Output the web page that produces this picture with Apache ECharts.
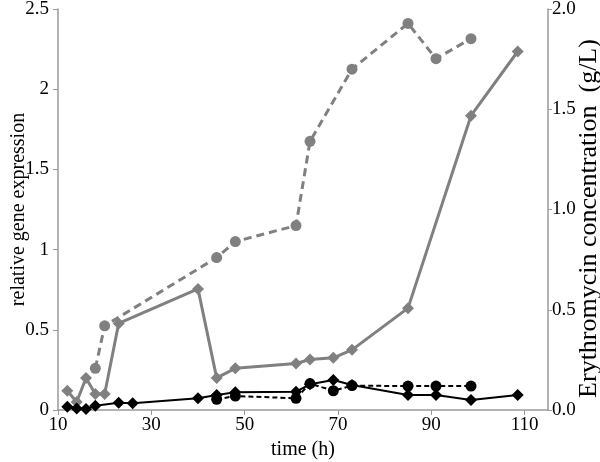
<!DOCTYPE html>
<html>
<head>
<meta charset="utf-8">
<script src="https://cdn.jsdelivr.net/npm/echarts@6/dist/echarts.min.js"></script>
<style>
html,body{margin:0;padding:0;background:#fff;}
#chart{width:600px;height:462px;}
</style>
</head>
<body>
<div id="chart"></div>
<script>
// ---- data ----
var xTicks = [10, 30, 50, 70, 90, 110];
var leftTicks = [0, 0.5, 1, 1.5, 2, 2.5];
var rightTicks = [0.0, 0.5, 1.0, 1.5, 2.0];

var grayDashTime = [18, 20, 44, 48, 61, 64, 73, 85, 91, 98.5];
var grayDashVal  = [0.26, 0.525, 0.95, 1.05, 1.15, 1.675, 2.125, 2.41, 2.19, 2.315];

var graySolidTime = [12, 14, 16, 18, 20, 23, 40, 44, 48, 61, 64, 69, 73, 85, 98.5, 108.5];
var graySolidVal  = [0.12, 0.05, 0.2, 0.1, 0.1, 0.54, 0.755, 0.2, 0.26, 0.29, 0.315, 0.325, 0.375, 0.635, 1.835, 2.235];

var blackSolidTime = [12, 14, 16, 18, 23, 26, 40, 44, 48, 61, 64, 69, 73, 85, 91, 98.5, 108.5];
var blackSolidVal  = [0.02, 0.01, 0.006, 0.027, 0.045, 0.042, 0.073, 0.093, 0.11, 0.114, 0.16, 0.187, 0.156, 0.093, 0.093, 0.062, 0.093];

var blackDashTime = [44, 48, 61, 64, 69, 73, 85, 91, 98.5];
var blackDashVal  = [0.067, 0.087, 0.073, 0.165, 0.12, 0.152, 0.149, 0.149, 0.149];

function pairs(t, v) { return t.map(function (x, i) { return [x, v[i]]; }); }

var FONT = "'Liberation Serif', 'Times New Roman', serif";
var AXIS_COLOR = '#9a9a9a';
var GRAY = '#808080';

var chart = echarts.init(document.getElementById('chart'), null, {renderer: 'canvas'});
chart.setOption({
  animation: false,
  backgroundColor: '#ffffff',
  textStyle: {fontFamily: FONT, color: '#000'},
  grid: {left: 58, right: 52, top: 9, bottom: 52, containLabel: false, outerBoundsMode: 'none'},
  xAxis: {
    type: 'value', min: 10, max: 115, interval: 20,
    name: 'time (h)', nameLocation: 'middle', nameGap: 30, nameMoveOverlap: false,
    nameTextStyle: {fontFamily: FONT, fontSize: 20, color: '#000'},
    axisLine: {show: true, onZero: false, lineStyle: {color: AXIS_COLOR, width: 1.5}},
    axisTick: {show: true, length: 5, lineStyle: {color: AXIS_COLOR}, customValues: xTicks},
    axisLabel: {fontFamily: FONT, fontSize: 19, color: '#000', margin: 6, customValues: xTicks},
    splitLine: {show: false}
  },
  yAxis: [
    {
      type: 'value', min: 0, max: 2.5, interval: 0.5, position: 'left',
      name: 'relative gene expression', nameLocation: 'middle', nameGap: 29, nameRotate: 90,
      nameMoveOverlap: false,
      nameTextStyle: {fontFamily: FONT, fontSize: 20, color: '#000'},
      axisLine: {show: true, lineStyle: {color: AXIS_COLOR, width: 1.5}},
      axisTick: {show: true, length: 5, lineStyle: {color: AXIS_COLOR}, customValues: leftTicks},
      axisLabel: {fontFamily: FONT, fontSize: 19, color: '#000', margin: 9, customValues: leftTicks},
      splitLine: {show: false}
    },
    {
      type: 'value', min: 0, max: 2, interval: 0.5, position: 'right',
      name: 'Erythromycin concentration  (g/L)', nameLocation: 'middle', nameGap: 28, nameRotate: 90,
      nameMoveOverlap: false,
      nameTextStyle: {fontFamily: FONT, fontSize: 26, color: '#000', padding: [0, 18, 0, 0]},
      axisLine: {show: true, lineStyle: {color: AXIS_COLOR, width: 1.5}},
      axisTick: {show: true, length: 4, lineStyle: {color: AXIS_COLOR}, customValues: rightTicks},
      axisLabel: {fontFamily: FONT, fontSize: 19, color: '#000', margin: 4, customValues: rightTicks,
        formatter: function (v) { return v.toFixed(1); }},
      splitLine: {show: false}
    }
  ],
  series: [
    {
      type: 'line', yAxisIndex: 0, data: pairs(grayDashTime, grayDashVal),
      symbol: 'circle', symbolSize: 11, showAllSymbol: true,
      itemStyle: {color: GRAY}, lineStyle: {color: GRAY, width: 3, type: [8, 5]}, z: 2
    },
    {
      type: 'line', yAxisIndex: 0, data: pairs(graySolidTime, graySolidVal),
      symbol: 'diamond', symbolSize: 12, showAllSymbol: true,
      itemStyle: {color: GRAY}, lineStyle: {color: GRAY, width: 3}, z: 3
    },
    {
      type: 'line', yAxisIndex: 0, data: pairs(blackSolidTime, blackSolidVal),
      symbol: 'diamond', symbolSize: 12, showAllSymbol: true,
      itemStyle: {color: '#000'}, lineStyle: {color: '#000', width: 2}, z: 4
    },
    {
      type: 'line', yAxisIndex: 0, data: pairs(blackDashTime, blackDashVal),
      symbol: 'circle', symbolSize: 11, showAllSymbol: true,
      itemStyle: {color: '#000'}, lineStyle: {color: '#000', width: 2, type: [5, 3]}, z: 5
    }
  ]
});
</script>
</body>
</html>
